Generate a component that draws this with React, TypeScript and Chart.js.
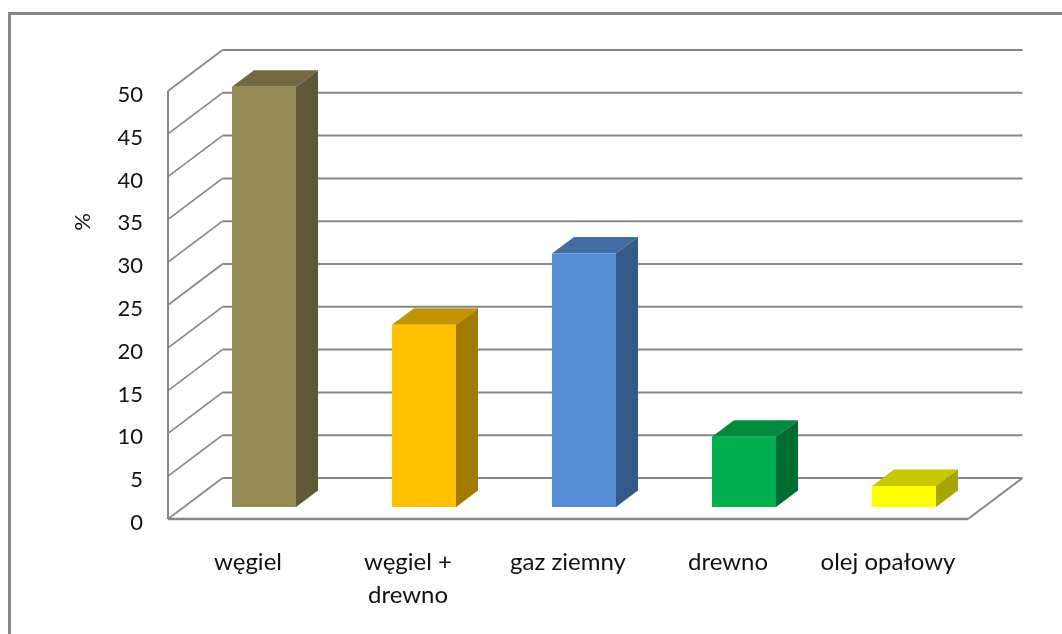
import React, { useEffect, useRef } from "react";
import { Chart, registerables } from "chart.js";

Chart.register(...registerables);

const categories: (string | string[])[] = ["węgiel", ["węgiel +", "drewno"], "gaz ziemny", "drewno", "olej opałowy"];
const shares = [49.1, 21.3, 29.6, 8.2, 2.45];
const frontColors = ["#948A54", "#FFC000", "#558ED5", "#00B050", "#FFFF00"];
const topColors = ["#716941", "#C49400", "#426CA2", "#008A3E", "#C8C800"];
const sideColors = ["#5F5736", "#A27A00", "#355A88", "#006E33", "#A6A600"];
const axisTitle = "%";

const GRID = "#868686";
const FONT = "Lato";
const WALL_DX = 54.5;
const WALL_DY = 41;
const BAR_SHIFT_X = 16;
const BAR_SHIFT_Y = 12;
const BAR_DX = 22;
const BAR_DY = 16.5;

const line = (ctx: CanvasRenderingContext2D, pts: number[][], w: number) => {
  ctx.beginPath();
  ctx.lineWidth = w;
  ctx.strokeStyle = GRID;
  pts.forEach((p, i) => (i ? ctx.lineTo(p[0], p[1]) : ctx.moveTo(p[0], p[1])));
  ctx.stroke();
};

const box3d = {
  id: "box3d",
  beforeDraw(chart: any) {
    const { ctx, width, height } = chart;
    ctx.save();
    ctx.fillStyle = "#fff";
    ctx.fillRect(0, 0, width, height);
    line(ctx, [[9.5, height + 5], [9.5, 13.5], [width + 5, 13.5]], 3);
    ctx.restore();
  },
  beforeDatasetsDraw(chart: any) {
    const { ctx, chartArea: a, scales } = chart;
    const y = scales.y;
    ctx.save();
    // walls and floor
    y.ticks.forEach((t: any) => {
      const py = y.getPixelForValue(t.value);
      line(ctx, [[a.left, py], [a.left + WALL_DX, py - WALL_DY]], 1.6);
      line(ctx, [[a.left + WALL_DX, py - WALL_DY], [a.right + WALL_DX, py - WALL_DY]], 2);
    });
    line(ctx, [[a.left, a.top], [a.left, a.bottom]], 2);
    line(ctx, [[a.left, a.bottom], [a.right, a.bottom]], 2.5);
    line(ctx, [[a.right, a.bottom], [a.right + WALL_DX, a.bottom - WALL_DY]], 2);
    // axis title
    ctx.save();
    ctx.translate(83, 222);
    ctx.rotate(-Math.PI / 2);
    ctx.fillStyle = "#111";
    ctx.font = `22px ${FONT}`;
    ctx.textAlign = "center";
    ctx.textBaseline = "middle";
    ctx.fillText(axisTitle, 0, 0);
    ctx.restore();
    // bar top and side faces; the front faces are drawn by Chart.js in the same shifted frame
    ctx.translate(BAR_SHIFT_X, -BAR_SHIFT_Y);
    chart.getDatasetMeta(0).data.forEach((bar: any, i: number) => {
      const l = bar.x - bar.width / 2;
      const r = bar.x + bar.width / 2;
      ctx.fillStyle = topColors[i];
      ctx.beginPath();
      ctx.moveTo(l, bar.y);
      ctx.lineTo(l + BAR_DX, bar.y - BAR_DY);
      ctx.lineTo(r + BAR_DX, bar.y - BAR_DY);
      ctx.lineTo(r, bar.y);
      ctx.closePath();
      ctx.fill();
      ctx.fillStyle = sideColors[i];
      ctx.beginPath();
      ctx.moveTo(r, bar.y);
      ctx.lineTo(r + BAR_DX, bar.y - BAR_DY);
      ctx.lineTo(r + BAR_DX, bar.base - BAR_DY);
      ctx.lineTo(r, bar.base);
      ctx.closePath();
      ctx.fill();
    });
  },
  afterDatasetsDraw(chart: any) {
    chart.ctx.restore();
  },
};

export default function App() {
  const ref = useRef<HTMLCanvasElement>(null);
  useEffect(() => {
    const chart = new Chart(ref.current!, {
      type: "bar",
      data: {
        labels: categories as any,
        datasets: [
          {
            data: shares,
            backgroundColor: frontColors,
            borderWidth: 0,
            barPercentage: 0.4,
            categoryPercentage: 1,
            clip: false as any,
          },
        ],
      },
      options: {
        animation: false,
        responsive: false,
        layout: { padding: { left: 0, top: 91, right: 94, bottom: 0 } },
        plugins: { legend: { display: false }, tooltip: { enabled: false } },
        scales: {
          x: {
            grid: { display: false, drawTicks: false },
            border: { display: false },
            afterFit: (s: any) => {
              s.height = 115;
            },
            ticks: {
              color: "#111",
              padding: 27,
              maxRotation: 0,
              autoSkip: false,
              font: { family: FONT, size: 24, lineHeight: 1.375 },
            },
          },
          y: {
            min: 0,
            max: 50,
            grid: { display: false, drawTicks: false },
            border: { display: false },
            afterFit: (s: any) => {
              s.width = 168;
            },
            ticks: {
              stepSize: 5,
              color: "#111",
              padding: 25,
              labelOffset: 4,
              font: { family: FONT, size: 22 },
            },
          },
        },
      },
      plugins: [box3d],
    } as any);
    return () => chart.destroy();
  }, []);
  return (
    <div style={{ position: "fixed", left: 0, top: 0, width: 1062, height: 634, background: "#fff" }}>
      <canvas ref={ref} width={1062} height={634} style={{ display: "block" }} />
    </div>
  );
}
